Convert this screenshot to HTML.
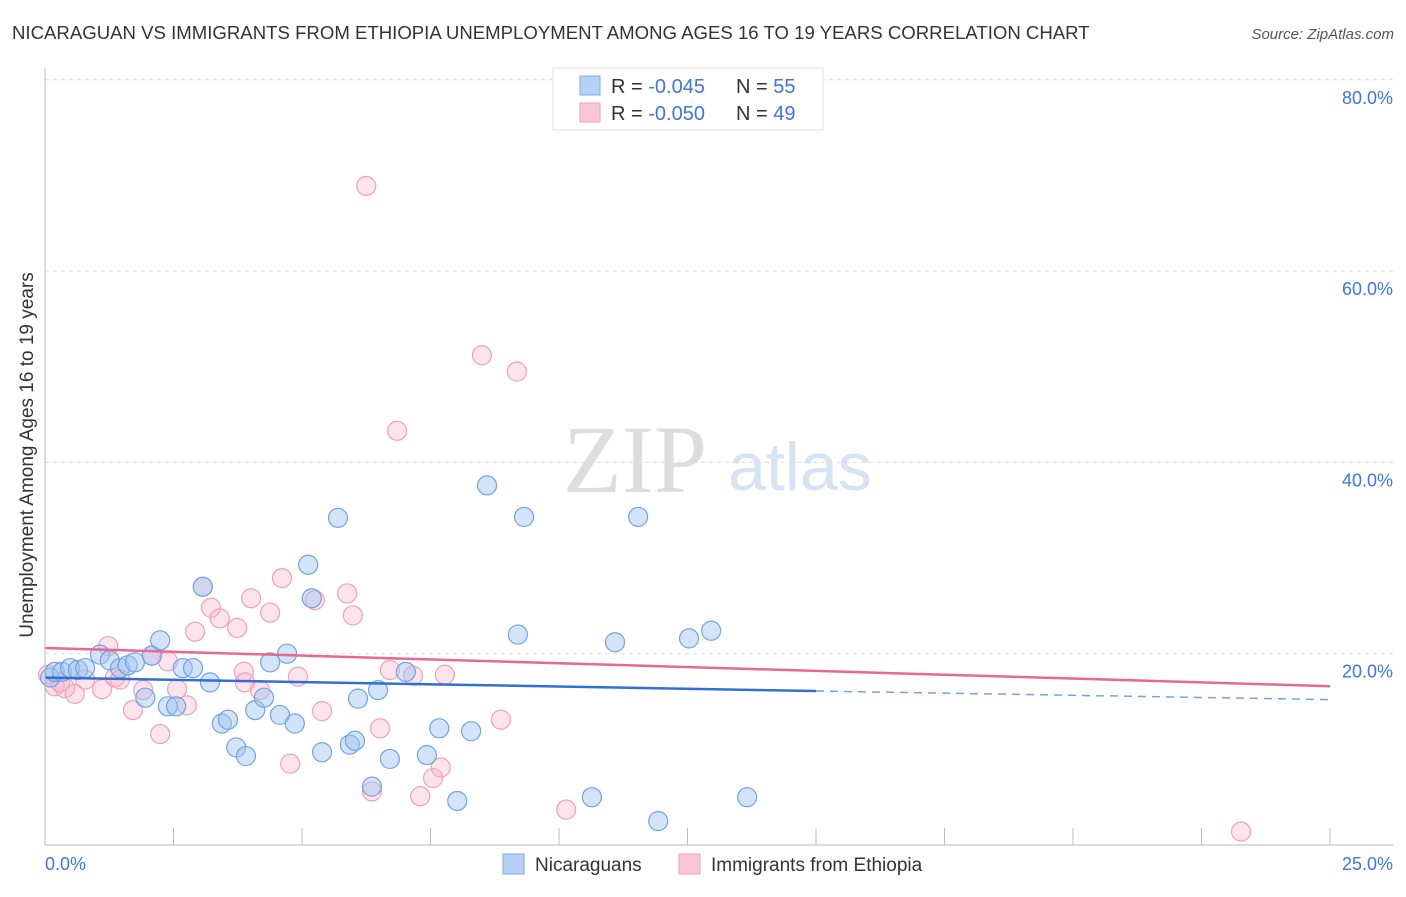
<!DOCTYPE html>
<html><head><meta charset="utf-8"><style>
body{margin:0;background:#fff;font-family:"Liberation Sans",sans-serif}
</style></head><body>
<svg id="c" width="1406" height="892" xmlns="http://www.w3.org/2000/svg">
<text x="12" y="39" font-size="18.6" fill="#333">NICARAGUAN VS IMMIGRANTS FROM ETHIOPIA UNEMPLOYMENT AMONG AGES 16 TO 19 YEARS CORRELATION CHART</text>
<text x="1394" y="39" font-size="15" fill="#555" font-style="italic" text-anchor="end">Source: ZipAtlas.com</text>
<text x="635" y="492" font-size="96" fill="#ddd" font-family="Liberation Serif,serif" text-anchor="middle">ZIP</text>
<text x="800" y="490" font-size="68" fill="#d5e3f5" text-anchor="middle">atlas</text>
<g id="grid"></g><g id="pts"></g><g id="lines"></g>
<line x1="45" y1="68" x2="45" y2="845" stroke="#bbb"/>
<line x1="45" y1="845" x2="1393" y2="845" stroke="#bbb"/>
<text x="33" y="455" font-size="19" fill="#333" text-anchor="middle" transform="rotate(-90 33 455)">Unemployment Among Ages 16 to 19 years</text>
<text x="45" y="870" font-size="18" fill="#3b78d8">0.0%</text>
<text x="1393" y="870" font-size="18" fill="#3b78d8" text-anchor="end">25.0%</text>
<g>
<rect x="553" y="68" width="270" height="62" fill="#fff" stroke="#ddd"/>
<rect x="580" y="76" width="20" height="19" fill="#b7d1f5" stroke="#7eaae8"/>
<rect x="580" y="103" width="20" height="19" fill="#f9c6d5" stroke="#f0a0b8"/>
<text x="611" y="93" font-size="20" fill="#333">R = <tspan fill="#3b78d8">-0.045</tspan><tspan x="736">N = </tspan><tspan fill="#3b78d8">55</tspan></text>
<text x="611" y="120" font-size="20" fill="#333">R = <tspan fill="#3b78d8">-0.050</tspan><tspan x="736">N = </tspan><tspan fill="#3b78d8">49</tspan></text>
</g>
<g>
<rect x="503" y="854" width="21" height="20" fill="#b7d1f5" stroke="#7eaae8"/>
<text x="535" y="871" font-size="19" fill="#333">Nicaraguans</text>
<rect x="679" y="854" width="21" height="20" fill="#f9c6d5" stroke="#f0a0b8"/>
<text x="711" y="871" font-size="19" fill="#333">Immigrants from Ethiopia</text>
</g>
</svg>
<script>
const yTicks=[20,40,60,80];
const xTicks=[0,2.5,5,7.5,10,12.5,15,17.5,20,22.5,25];
const blueX=[0.10,0.19,0.33,0.49,0.64,0.78,1.07,1.26,1.46,1.61,1.75,1.95,2.08,2.24,2.39,2.55,2.68,2.88,3.07,3.21,3.44,3.56,3.72,3.91,4.09,4.26,4.38,4.57,4.71,4.86,5.12,5.19,5.39,5.70,5.93,6.03,6.09,6.36,6.48,6.71,7.02,7.43,7.67,8.02,8.29,8.60,9.20,9.32,10.64,11.09,11.54,11.93,12.53,12.96,13.66];
const blueY=[17.5,18.1,18.1,18.5,18.3,18.5,19.9,19.3,18.5,18.8,19.1,15.4,19.8,21.4,14.5,14.5,18.5,18.5,27.0,17.0,12.7,13.1,10.2,9.3,14.1,15.4,19.1,13.6,20.0,12.7,29.3,25.8,9.7,34.2,10.5,10.9,15.3,6.1,16.2,9.0,18.1,9.4,12.2,4.6,11.9,37.6,22.0,34.3,5.0,21.2,34.3,2.5,21.6,22.4,5.0];
const pinkX=[0.06,0.19,0.29,0.39,0.58,0.78,1.11,1.23,1.36,1.46,1.71,1.91,2.08,2.24,2.39,2.57,2.76,2.92,3.07,3.23,3.40,3.74,3.87,3.89,4.01,4.18,4.38,4.61,4.77,4.92,5.25,5.39,5.88,5.99,6.25,6.36,6.52,6.71,6.85,7.16,7.30,7.55,7.70,7.78,8.50,8.87,9.18,10.14,23.27];
const pinkY=[17.8,16.6,17.0,16.4,15.8,17.3,16.3,20.8,17.5,17.3,14.1,16.2,19.8,11.6,19.2,16.3,14.6,22.3,27.0,24.8,23.7,22.7,18.1,17.0,25.8,16.2,24.3,27.9,8.5,17.6,25.6,14.0,26.3,24.0,68.9,5.6,12.2,18.3,43.3,17.7,5.1,7.0,8.1,17.8,51.2,13.1,49.5,3.7,1.4];
const blueTrend=[17.5,16.1,15.2]; const blueTrendX=[0,15,25];
const pinkTrend=[20.6,16.6]; const pinkTrendX=[0,25];
const X=v=>45+v*51.4, Y=v=>845-v*9.565;
const NS='http://www.w3.org/2000/svg';
function mk(t,a,p){const e=document.createElementNS(NS,t);for(const k in a)e.setAttribute(k,a[k]);document.getElementById(p).appendChild(e);return e;}
yTicks.forEach(t=>{
 const l=mk('line',{x1:45,x2:1393,y1:Y(t),y2:Y(t),stroke:'#ddd','stroke-dasharray':'4,4'},'grid');
 
 
 const tx=mk('text',{x:1393,y:Y(t)+24,'font-size':18,fill:'#3b78d8','text-anchor':'end'},'grid');
 tx.textContent=t.toFixed(1)+'%';
 
 
});
xTicks.slice(1).forEach(t=>{
 const l=mk('line',{x1:X(t),x2:X(t),y1:828,y2:845,stroke:'#bbb'},'grid');
 
 
});
pinkX.forEach((x,i)=>{
 const c=mk('circle',{cx:X(x),cy:Y(pinkY[i]),r:9.5,fill:'rgba(248,175,198,0.35)',stroke:'#f0a0b8','stroke-width':1.2},'pts');
 
 
});
blueX.forEach((x,i)=>{
 const c=mk('circle',{cx:X(x),cy:Y(blueY[i]),r:9.5,fill:'rgba(160,196,240,0.45)',stroke:'#6fa3e8','stroke-width':1.2},'pts');
 
 
});
const b1=mk('line',{x1:X(blueTrendX[0]),y1:Y(blueTrend[0]),x2:X(blueTrendX[1]),y2:Y(blueTrend[1]),stroke:'#2f6fd6','stroke-width':2.5},'lines');


const b2=mk('line',{x1:X(blueTrendX[1]),y1:Y(blueTrend[1]),x2:X(blueTrendX[2]),y2:Y(blueTrend[2]),stroke:'#6fa3e8','stroke-width':1.5,'stroke-dasharray':'8,6'},'lines');


const p1=mk('line',{x1:X(pinkTrendX[0]),y1:Y(pinkTrend[0]),x2:X(pinkTrendX[1]),y2:Y(pinkTrend[1]),stroke:'#e8688f','stroke-width':2.5},'lines');


</script>
</body></html>
